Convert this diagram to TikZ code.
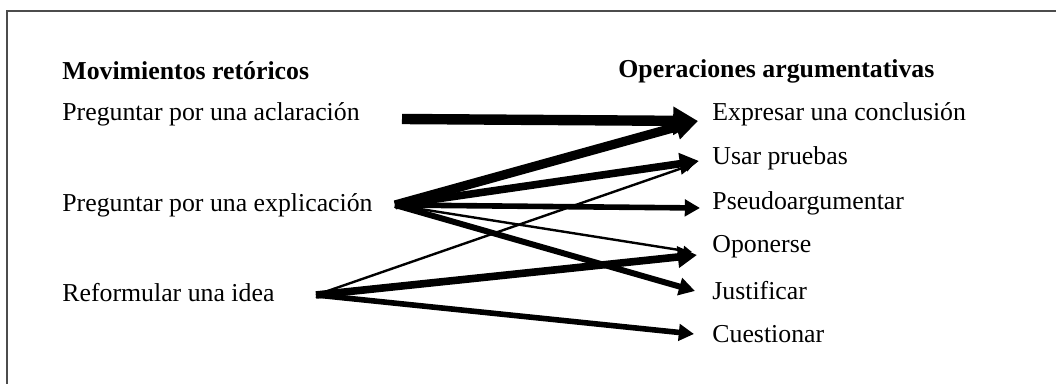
\documentclass[tikz,border=0pt]{standalone}
\usepackage{fontspec}
\setmainfont{Liberation Serif}
\usetikzlibrary{arrows.meta}
\begin{document}
\begin{tikzpicture}[x=0.5pt,y=-0.5pt,
  lbl/.style={anchor=west,inner sep=0pt,font=\fontsize{12.9}{15}\selectfont},
  hdr/.style={lbl,font=\fontsize{12.9}{15}\selectfont\bfseries},
  arr/.style={-{Triangle[length=2pt 2,width=2pt 2.2]},line width=#1},
  frame/.style={draw=black!70,line width=0.8pt}]
\useasboundingbox (0,0) rectangle (1056,384);
\draw[frame] (7,384) -- (7,11) -- (1056,11);
% headers
\node[hdr] (hl) at (62,71) {Movimientos retóricos};
\node[hdr] (hr) at (618,71) {Operaciones argumentativas};
% left labels
\node[lbl] (l1) at (62,114) {Preguntar por una aclaración};
\node[lbl] (l2) at (62,205) {Preguntar por una explicación};
\node[lbl] (l3) at (62,293) {Reformular una idea};
% right labels
\node[lbl] (r1) at (712,114) {Expresar una conclusión};
\node[lbl] (r2) at (712,158) {Usar pruebas};
\node[lbl] (r3) at (712,203) {Pseudoargumentar};
\node[lbl] (r4) at (712,247) {Oponerse};
\node[lbl] (r5) at (712,291) {Justificar};
\node[lbl] (r6) at (712,334) {Cuestionar};
% connector ends
\coordinate (s1) at (402,119);
\coordinate (s2) at (395,205);
\coordinate (s3) at (316,295);
\coordinate (e1) at (698,121);
\coordinate (e2) at (699,161);
\coordinate (e2t) at (694,164);
\coordinate (e3) at (700,208);
\coordinate (e4) at (697,255);
\coordinate (e4t) at (692,252);
\coordinate (e5) at (695,291);
\coordinate (e6) at (694,334);
% arrows
\draw[arr=5.2pt] (s1) -- (e1);
\draw[arr=4.6pt] (s2) -- (e1);
\draw[arr=3.8pt] (s2) -- (e2);
\draw[arr=2.8pt] (s2) -- (e3);
\draw[arr=1.2pt] (s2) -- (e4t);
\draw[arr=3pt] (s2) -- (e5);
\draw[arr=1.2pt] (s3) -- (e2t);
\draw[arr=3.8pt] (s3) -- (e4);
\draw[arr=2.8pt] (s3) -- (e6);
\end{tikzpicture}
\end{document}
